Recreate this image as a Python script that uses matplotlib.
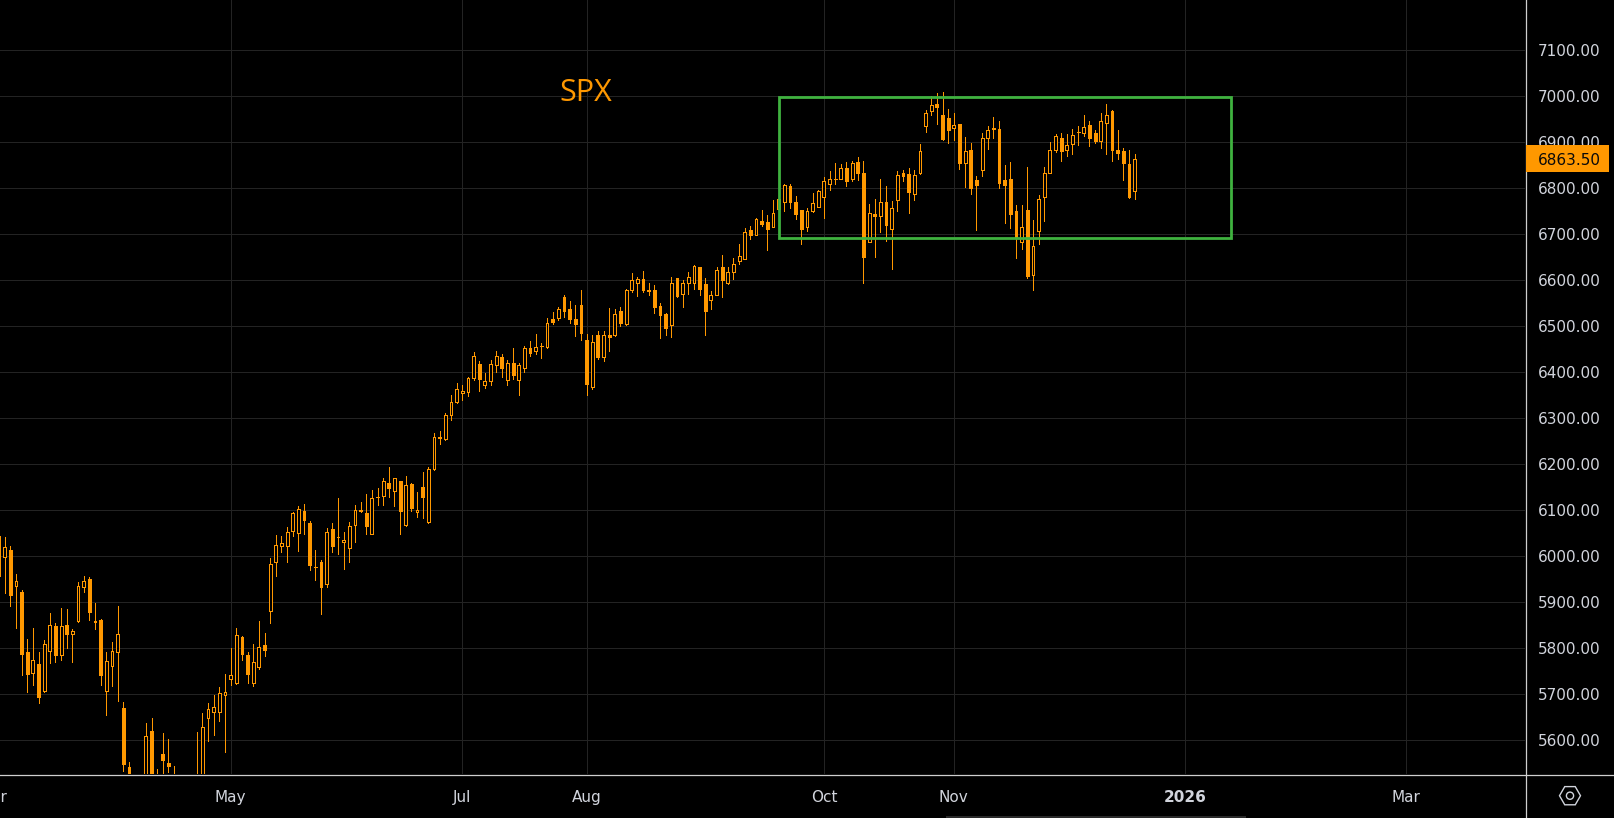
import numpy as np
import pandas as pd
import matplotlib
matplotlib.use("Agg")
import matplotlib.pyplot as plt
from matplotlib.patches import Rectangle, RegularPolygon, Circle
from matplotlib.lines import Line2D
import matplotlib.transforms as mtransforms

# ---------------- data ----------------
symbol = "SPX"
first_date = "2025-03-04"
holidays = ["2025-04-18", "2025-05-26", "2025-06-19", "2025-07-04", "2025-09-01",
            "2025-11-27", "2025-12-25", "2026-01-01", "2026-01-19", "2026-02-16"]

opens = [6044, 5999, 6014, 5935, 5923, 5791, 5747, 5766, 5708, 5795,
         5849, 5786, 5850, 5832, 5859, 5932, 5951, 5859, 5862, 5708,
         5762, 5791, 5670, 5542, 5100, 5333, 5105, 5620, 5395, 5570,
         5551, 5475, 5445, 5372, 5347, 5505, 5510, 5648, 5662, 5661,
         5698, 5734, 5725, 5825, 5786, 5725, 5760, 5807, 5880, 5988,
         6022, 6022, 6054, 6050, 6099, 6073, 5977, 5988, 5939, 6059,
         6042, 6030, 6017, 6067, 6099, 6094, 6049, 6128, 6130, 6159,
         6141, 6163, 6067, 6157, 6096, 6150, 6074, 6189, 6257, 6255,
         6307, 6334, 6354, 6356, 6386, 6417, 6371, 6380, 6415, 6433,
         6382, 6420, 6382, 6409, 6453, 6445, 6456, 6455, 6514, 6517,
         6562, 6536, 6514, 6546, 6470, 6367, 6481, 6432, 6481, 6481,
         6533, 6505, 6577, 6594, 6601, 6579, 6579, 6544, 6525, 6501,
         6603, 6570, 6594, 6594, 6627, 6590, 6557, 6568, 6628, 6593,
         6618, 6641, 6646, 6708, 6698, 6728, 6725, 6715, 6753, 6768,
         6803, 6770, 6751, 6715, 6749, 6759, 6779, 6809, 6819, 6820,
         6842, 6819, 6855, 6831, 6683, 6744, 6738, 6768, 6711, 6773,
         6831, 6829, 6786, 6831, 6933, 6966, 6982, 6959, 6951, 6930,
         6938, 6853, 6882, 6817, 6839, 6909, 6928, 6927, 6817, 6819,
         6749, 6683, 6751, 6611, 6707, 6779, 6833, 6881, 6907, 6881,
         6896, 6920, 6918, 6936, 6918, 6901, 6940, 6966, 6883, 6879,
         6851, 6792]
highs = [6048, 6041, 6023, 5962, 5927, 5820, 5844, 5791, 5818, 5877,
         5855, 5888, 5886, 5842, 5944, 5957, 5955, 5899, 5863, 5792,
         5814, 5892, 5683, 5553, 5390, 5407, 5638, 5648, 5538, 5616,
         5603, 5544, 5468, 5400, 5449, 5618, 5660, 5681, 5699, 5716,
         5744, 5801, 5844, 5826, 5791, 5809, 5859, 5833, 5996, 6046,
         6044, 6064, 6096, 6108, 6114, 6077, 6013, 5991, 6062, 6073,
         6127, 6052, 6075, 6112, 6118, 6136, 6144, 6149, 6170, 6194,
         6170, 6164, 6174, 6159, 6139, 6183, 6194, 6267, 6272, 6311,
         6350, 6375, 6372, 6390, 6444, 6423, 6398, 6425, 6446, 6440,
         6425, 6453, 6419, 6456, 6468, 6483, 6463, 6518, 6530, 6542,
         6568, 6553, 6546, 6579, 6483, 6481, 6488, 6488, 6538, 6536,
         6542, 6581, 6614, 6607, 6620, 6594, 6588, 6549, 6529, 6607,
         6605, 6599, 6616, 6633, 6628, 6603, 6575, 6627, 6654, 6628,
         6647, 6678, 6712, 6717, 6734, 6751, 6741, 6773, 6783, 6809,
         6809, 6781, 6752, 6757, 6788, 6796, 6823, 6836, 6853, 6851,
         6855, 6859, 6866, 6859, 6764, 6775, 6820, 6803, 6771, 6836,
         6838, 6842, 6838, 6894, 6968, 6999, 7005, 7008, 6970, 6962,
         6939, 6910, 6897, 6825, 6919, 6934, 6954, 6945, 6849, 6856,
         6762, 6762, 6844, 6730, 6784, 6844, 6899, 6916, 6918, 6916,
         6927, 6933, 6957, 6946, 6925, 6962, 6981, 6968, 6925, 6886,
         6883, 6873]
lows = [5952, 5921, 5891, 5843, 5741, 5704, 5721, 5680, 5706, 5769,
        5771, 5775, 5801, 5771, 5857, 5923, 5862, 5841, 5721, 5654,
        5719, 5686, 5534, 5205, 4980, 5050, 5000, 5255, 5360, 5498,
        5532, 5360, 5395, 5241, 5340, 5490, 5500, 5599, 5612, 5641,
        5575, 5721, 5722, 5775, 5725, 5717, 5756, 5783, 5854, 5956,
        6010, 5987, 6043, 6012, 6047, 5969, 5949, 5875, 5934, 6009,
        6004, 5973, 5988, 6030, 6095, 6049, 6048, 6112, 6112, 6128,
        6108, 6047, 6065, 6098, 6085, 6083, 6072, 6188, 6244, 6253,
        6295, 6332, 6338, 6347, 6382, 6358, 6365, 6372, 6399, 6388,
        6371, 6384, 6351, 6400, 6434, 6440, 6430, 6453, 6504, 6512,
        6520, 6507, 6477, 6469, 6351, 6362, 6429, 6423, 6445, 6479,
        6499, 6501, 6573, 6564, 6573, 6566, 6529, 6473, 6481, 6475,
        6563, 6542, 6570, 6581, 6566, 6481, 6536, 6566, 6562, 6591,
        6601, 6635, 6645, 6689, 6697, 6717, 6665, 6715, 6733, 6750,
        6757, 6733, 6678, 6707, 6748, 6758, 6735, 6796, 6809, 6819,
        6803, 6814, 6816, 6594, 6682, 6649, 6704, 6685, 6624, 6749,
        6814, 6746, 6773, 6830, 6920, 6957, 6938, 6903, 6898, 6904,
        6841, 6802, 6787, 6709, 6826, 6885, 6907, 6800, 6724, 6713,
        6648, 6667, 6604, 6578, 6678, 6728, 6832, 6877, 6857, 6868,
        6873, 6892, 6912, 6890, 6897, 6886, 6873, 6859, 6862, 6816,
        6778, 6775]
closes = [5957, 6020, 5915, 5946, 5788, 5745, 5774, 5695, 5809, 5850,
          5786, 5848, 5830, 5838, 5935, 5946, 5878, 5858, 5741, 5772,
          5794, 5830, 5549, 5214, 5200, 5122, 5609, 5408, 5503, 5557,
          5545, 5416, 5423, 5298, 5428, 5515, 5629, 5667, 5672, 5702,
          5704, 5741, 5828, 5788, 5743, 5770, 5802, 5796, 5983, 6024,
          6028, 6052, 6094, 6102, 6078, 5980, 5976, 5934, 6052, 6021,
          6041, 6035, 6066, 6100, 6100, 6065, 6127, 6129, 6163, 6147,
          6170, 6098, 6154, 6104, 6100, 6128, 6189, 6259, 6259, 6306,
          6334, 6364, 6359, 6386, 6435, 6384, 6380, 6417, 6435, 6408,
          6420, 6393, 6414, 6451, 6442, 6455, 6457, 6507, 6509, 6536,
          6532, 6514, 6505, 6484, 6373, 6466, 6433, 6481, 6475, 6525,
          6507, 6579, 6599, 6601, 6579, 6575, 6540, 6523, 6496, 6594,
          6564, 6594, 6607, 6629, 6581, 6533, 6568, 6622, 6599, 6616,
          6634, 6651, 6703, 6698, 6733, 6721, 6711, 6746, 6775, 6805,
          6768, 6744, 6711, 6749, 6766, 6792, 6814, 6820, 6820, 6842,
          6814, 6853, 6831, 6649, 6746, 6739, 6768, 6720, 6755, 6827,
          6825, 6790, 6827, 6879, 6962, 6979, 6975, 6905, 6926, 6936,
          6854, 6879, 6800, 6807, 6909, 6925, 6929, 6811, 6807, 6744,
          6691, 6714, 6609, 6673, 6775, 6833, 6881, 6912, 6879, 6892,
          6914, 6921, 6931, 6909, 6901, 6944, 6959, 6883, 6875, 6853,
          6779, 6863.5]

last_price = 6863.50
price_ticks = [5600, 5700, 5800, 5900, 6000, 6100, 6200, 6300,
               6400, 6500, 6600, 6700, 6800, 6900, 7000, 7100]
month_keys = ["2025-03", "2025-05", "2025-07", "2025-08", "2025-10", "2025-11", "2026-01", "2026-03"]
month_labels = ["Mar", "May", "Jul", "Aug", "Oct", "Nov", "2026", "Mar"]
box_dates = ["2025-09-19", "2026-01-14"]
box_prices = [6690, 6996]

# ---------------- styles ----------------
W, H = 1614, 818
ORANGE = "#ff9800"
GREEN = "#3fb23f"
GRID = "#232323"
TXT = "#d1d4dc"
LINE = "#cfcfcf"
PX = 0.72  # one pixel in points at 100 dpi

# trading calendar (bars are spaced by trading day)
cal = pd.bdate_range("2025-03-03", "2026-03-31")
cal = cal[~cal.isin(pd.to_datetime(holidays))]
cal_keys = np.array(cal.strftime("%Y-%m"))

o = np.array(opens, float)
h = np.array(highs, float)
l = np.array(lows, float)
c = np.array(closes, float)
start = cal.get_loc(pd.Timestamp(first_date))
x = np.arange(start, start + len(o))

fig = plt.figure(figsize=(W / 100, H / 100), dpi=100, facecolor="black")
ax = fig.add_axes([0, 1 - 774 / H, 1525 / W, 774 / H])
ax.set_facecolor("black")
for s in ax.spines.values():
    s.set_visible(False)
ax.set_xlim(1.18, 271.09)
ax.set_ylim(5526.9, 7207.7)

# grid
for p in price_ticks:
    ax.axhline(p, color=GRID, lw=PX, zorder=0, antialiased=False)
month_pos = [int(np.argmax(cal_keys == m)) for m in month_keys]
for mp in month_pos:
    ax.axvline(mp, color=GRID, lw=PX, zorder=0, antialiased=False)

# candles
up = c >= o
ax.vlines(x, l, h, color=ORANGE, lw=PX, zorder=2, antialiased=False)
ax.bar(x[up], (c - o)[up], bottom=o[up], width=0.5, facecolor="black",
       edgecolor=ORANGE, linewidth=PX, zorder=3, antialiased=False)
ax.bar(x[~up], (o - c)[~up], bottom=c[~up], width=0.5, facecolor=ORANGE,
       edgecolor=ORANGE, linewidth=PX, zorder=3, antialiased=False)

# range box
bx0 = cal.get_loc(pd.Timestamp(box_dates[0]))
bx1 = cal.get_loc(pd.Timestamp(box_dates[1]))
ax.add_patch(Rectangle((bx0, box_prices[0]), bx1 - bx0, box_prices[1] - box_prices[0],
                       fill=False, edgecolor=GREEN, lw=2.0, zorder=4))

# symbol label
ax.text(0.3839, 0.8699, symbol, transform=ax.transAxes, color=ORANGE, fontsize=22,
        family=["Open Sans", "DejaVu Sans"], ha="center", va="baseline")

# price axis
ax.set_xticks([])
ax.yaxis.tick_right()
ax.set_yticks(price_ticks)
ax.set_yticklabels([f"{p:.2f}" for p in price_ticks])
ax.tick_params(axis="y", length=0, pad=9, labelsize=11, labelcolor=TXT)

# time axis labels
tr_x = mtransforms.blended_transform_factory(ax.transData, fig.transFigure)
for mp, lab in zip(month_pos, month_labels):
    ax.text(mp, 1 - 802 / H, lab, transform=tr_x, ha="center", va="baseline",
            fontsize=11, color=TXT, fontweight="bold" if lab.isdigit() else "normal",
            clip_on=False)

# last price tag
tr_p = mtransforms.blended_transform_factory(fig.transFigure, ax.transData)
tag_h = 26.7 * (7207.7 - 5526.9) / 774
fig.add_artist(Rectangle((1525.5 / W, last_price - tag_h / 2), 83 / W, tag_h,
                         transform=tr_p, facecolor=ORANGE, edgecolor="none", zorder=5))
fig.text(1537.5 / W, last_price, f"{last_price:.2f}", transform=tr_p, color="#0a0a0a",
         fontsize=11, ha="left", va="center_baseline", zorder=6)

# separators
fig.add_artist(Line2D([1525.5 / W] * 2, [0, 1], color=LINE, lw=0.9, transform=fig.transFigure, zorder=4))
fig.add_artist(Line2D([0, 1], [1 - 774.5 / H] * 2, color=LINE, lw=0.9, transform=fig.transFigure, zorder=4))

# settings icon and scrollbar
ident = mtransforms.IdentityTransform()
fig.add_artist(RegularPolygon((1570, H - 795.7), numVertices=6, radius=10.5,
                              orientation=np.pi / 6, fill=False, edgecolor=TXT, lw=1.0,
                              transform=ident, zorder=6))
fig.add_artist(Circle((1570, H - 795.7), 3.6, fill=False, edgecolor=TXT, lw=1.0,
                      transform=ident, zorder=6))
fig.add_artist(Rectangle((946, 0), 300, 1.6, facecolor="#2a2a2a", edgecolor="none",
                         transform=ident, zorder=6))

fig.savefig("out.png", dpi=100, facecolor="black")
